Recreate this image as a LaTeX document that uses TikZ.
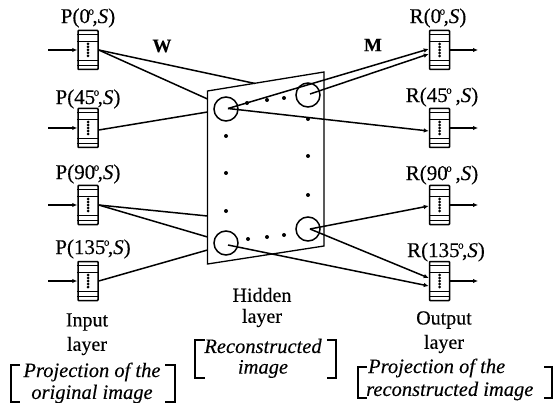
\documentclass[tikz,border=0pt]{standalone}
\usepackage{fontspec}
\setmainfont{Liberation Serif}[FakeBold=0.25]
\usetikzlibrary{arrows.meta}
\newcommand{\lyrbox}[3]{%
  \node[lbox] (#1) at (#2,#3) {};
  \draw[lline] ([yshift=-5pt]#1.north west) -- ([yshift=-5pt]#1.north east);
  \draw[lline] ([yshift=-11.5pt]#1.north west) -- ([yshift=-11.5pt]#1.north east);
  \draw[lline] ([yshift=10pt]#1.south west) -- ([yshift=10pt]#1.south east);
  \draw[lline] ([yshift=4.5pt]#1.south west) -- ([yshift=4.5pt]#1.south east);
  \foreach \k in {-6,-3,0,3,6} \fill ([yshift=\k pt]#1.center) circle (1.5pt);
}
\newcommand{\dg}{\kern-1.5pt\raisebox{.40em}{\fontsize{11}{11}\selectfont o}\kern-1.5pt}
\tikzset{
  x=1pt,y=-1pt,
  lbox/.style={draw,line width=1.5pt,minimum width=20pt,minimum height=39pt,inner sep=0pt,rounded corners=.8pt},
  lline/.style={line width=1.2pt},
  unit/.style={draw,circle,line width=1.5pt,minimum size=24pt,inner sep=0pt},
  conn/.style={line width=1.5pt},
  arr/.style={line width=1.5pt,-{Latex[length=5pt,width=4.5pt]}},
  lab/.style={font=\fontsize{21}{23}\selectfont,inner sep=0pt},
  captxt/.style={font=\fontsize{20}{22}\selectfont,inner sep=0pt},
  ital/.style={font=\fontsize{20.5}{22}\selectfont\itshape,inner sep=0pt},
  brk/.style={line width=1.5pt},
}
\begin{document}
\begin{tikzpicture}
\useasboundingbox (0,0) rectangle (553,403);
% hidden plane
\draw[line width=1.3pt] (207.5,91) coordinate (pa) -- (324,72) coordinate (pb) -- (324,246) coordinate (pc) -- (207.5,264) coordinate (pd) -- cycle;
% boxes
\lyrbox{p0}{88}{50}
\lyrbox{p45}{88}{128}
\lyrbox{p90}{88}{205}
\lyrbox{p135}{88}{281}
\lyrbox{r0}{439.5}{50}
\lyrbox{r45}{439.5}{128}
\lyrbox{r90}{439.5}{205}
\lyrbox{r135}{439.5}{281}
% units
\node[unit] (tl) at (226,109) {};
\node[unit] (tr) at (308,95) {};
\node[unit] (bl) at (226,243) {};
\node[unit] (br) at (308,229) {};
\coordinate (tlc) at (228,108.5);
\coordinate (trc) at (310,94);
\coordinate (blc) at (228,245);
\coordinate (brc) at (310,229);
% free ends
\foreach \n/\y in {p0/50,p45/128,p90/205,p135/281}{
  \coordinate (in\n) at (48,\y);
  \draw[arr] (in\n) -- (\n.west);
}
\foreach \n/\y in {r0/50,r45/128,r90/205,r135/281}{
  \coordinate (out\n) at (478,\y);
  \draw[arr] (\n.east) -- (out\n);
}
% input connectors
\coordinate (e1) at (255,83.5);
\coordinate (e2) at (207.5,99);
\coordinate (e3) at (207.5,112);
\coordinate (e4) at (207.5,216);
\coordinate (e5) at (207.5,237);
\coordinate (e6) at (207.5,250);
\draw[conn] (p0.east) -- (e1);
\draw[conn] (p0.east) -- (e2);
\draw[conn] ([yshift=-2pt]p45.east) -- (e3);
\draw[conn] (p90.east) -- (e4);
\draw[conn] (p90.east) -- (e5);
\draw[conn] (p135.east) -- (e6);
% output connectors
\draw[arr] (tlc) -- ([yshift=1pt]r0.west);
\draw[arr] (trc) -- ([yshift=-4pt]r0.west);
\draw[arr] (tlc) -- ([yshift=-3pt]r45.west);
\draw[arr] (brc) -- ([yshift=-1pt]r90.west);
\draw[arr] (brc) -- ([yshift=3pt]r135.west);
\draw[arr] (blc) -- ([yshift=-5pt]r135.west);
% dots
\foreach \x/\y in {247/103,267/100,284/98,248/239,267/237,284/235,226/136,226/173,226/211,308/119,308/156,308/195}
  \fill (\x,\y) circle (2pt);
% labels
\node[lab] (lp0) at (88,18) {P(0\dg,\textit{S})};
\node[lab] (lp45) at (88,99) {P(45\dg,\textit{S})};
\node[lab] (lp90) at (88,174) {P(90\dg,\textit{S})};
\node[lab] (lp135) at (93,249) {P(135\dg,\textit{S})};
\node[lab] (lr0) at (438,18) {R(0\dg,\textit{S})};
\node[lab] (lr45) at (442,97) {R(45\dg\ ,\textit{S})};
\node[lab] (lr90) at (442,175) {R(90\dg\ ,\textit{S})};
\node[lab] (lr135) at (446,252) {R(135\dg,\textit{S})};
\node[inner sep=0pt,font=\fontsize{19}{21}\selectfont\bfseries] (w) at (162,46) {W};
\node[inner sep=0pt,font=\fontsize{19}{21}\selectfont\bfseries] (m) at (373,45) {M};
\node[captxt] (t1) at (87,322) {Input};
\node[captxt] (t2) at (87,346) {layer};
\node[captxt] (t3) at (262,295) {Hidden};
\node[captxt] (t4) at (262,318) {layer};
\node[captxt] (t5) at (444,320) {Output};
\node[captxt] (t6) at (444,344) {layer};
\node[ital] (t7) at (92,372) {Projection of the};
\node[ital] (t8) at (92,394) {original image};
\node[ital] (t9) at (263,346) {Reconstructed};
\node[ital] (t10) at (263,369) {image};
\node[ital,anchor=west] (t11) at (368,368) {Projection of the};
\node[ital,anchor=west] (t12) at (366,391) {reconstructed image};
% brackets
\draw[brk] (20,365) -- (11,365) -- (11,402) -- (20,402);
\draw[brk] (165,365) -- (175,365) -- (175,402) -- (165,402);
\draw[brk] (205,340) -- (195,340) -- (195,378) -- (205,378);
\draw[brk] (327,340) -- (336,340) -- (336,378) -- (327,378);
\draw[brk] (367,367) -- (358,367) -- (358,398) -- (367,398);
\draw[brk] (544,367) -- (552,367) -- (552,398) -- (544,398);
\end{tikzpicture}
\end{document}
